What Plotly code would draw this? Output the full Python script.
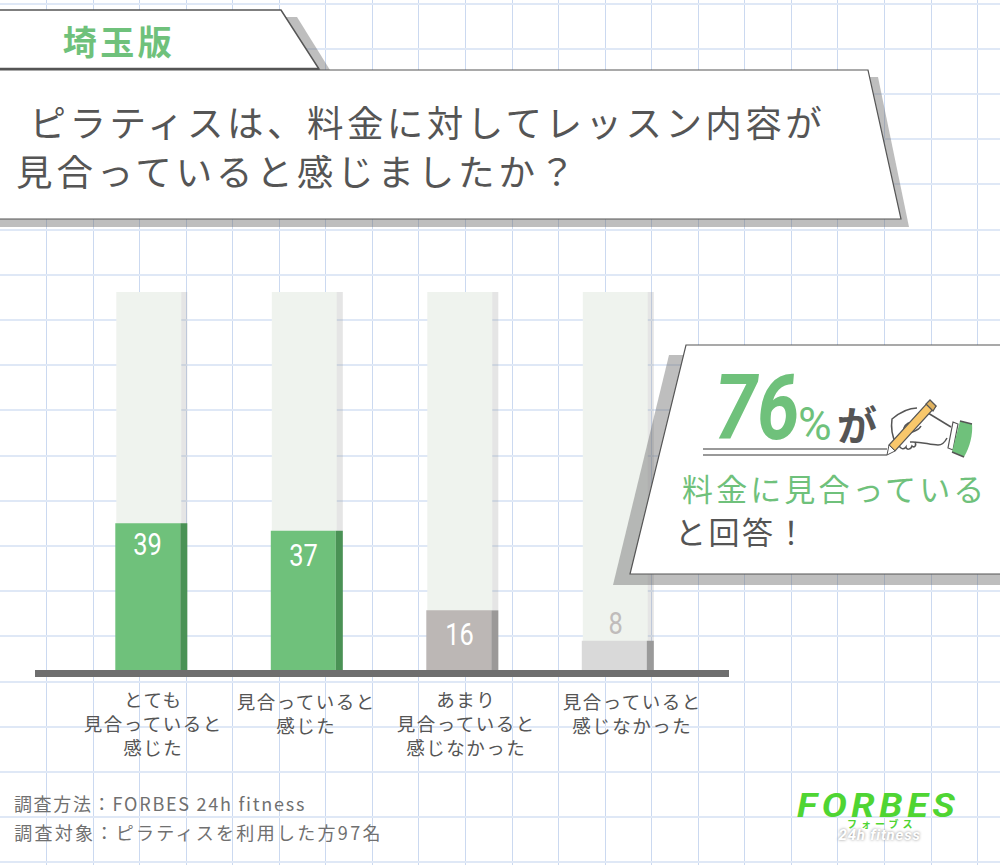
import json
import plotly.graph_objects as go

categories = ['とても見合っていると感じた', '見合っていると感じた', 'あまり見合っていると感じなかった', '見合っていると感じなかった']
tick_labels = ['とても<br>見合っていると<br>感じた', '見合っていると<br>感じた', 'あまり<br>見合っていると<br>感じなかった', '見合っていると<br>感じなかった']
values = [39, 37, 16, 8]
track = [100, 100, 100, 100]

JP = 'Noto Sans CJK JP'
LATIN = 'Roboto'
DARK = '#555555'
GREEN = '#6fc17b'

bar_colors = [GREEN, GREEN, '#bcb7b5', '#d9d9d9']
side_colors = ['#4a9255', '#4a9255', '#9b9998', '#9a9a9a']
value_colors = ['#ffffff', '#ffffff', '#ffffff', '#c0bcbb']
value_xshift = [-4, -3, -3, -2]
value_yshift = [-21, -25, -24, 17]
label_xshift = [2, 0, 4, 15]
label_y = [723, 713, 723, 713]

# one category is 155.5 px wide
UNIT = 155.5
CENTER0 = 151.3
BAR_W = 65 / UNIT
SIDE_W = 7 / UNIT
LEFT = -36 / UNIT

fig = go.Figure()
# the first axes are only the graph paper, in page pixels
fig.add_trace(go.Scatter(x=[0], y=[0], mode='markers', marker=dict(opacity=0), hoverinfo='skip',
                         xaxis='x', yaxis='y', showlegend=False))
fig.add_trace(go.Bar(x=categories, y=track, width=BAR_W, offset=LEFT + 1 / UNIT,
                     marker=dict(color='#eff3ee', line_width=0), xaxis='x2', yaxis='y2'))
fig.add_trace(go.Bar(x=categories, y=track, width=6 / UNIT, offset=LEFT + 1 / UNIT + BAR_W,
                     marker=dict(color='rgba(150,150,150,0.25)', line_width=0), xaxis='x2', yaxis='y2'))
fig.add_trace(go.Bar(x=categories, y=values, width=BAR_W, offset=LEFT,
                     marker=dict(color=bar_colors, line_width=0), xaxis='x2', yaxis='y2'))
fig.add_trace(go.Bar(x=categories, y=values, width=SIDE_W, offset=LEFT + BAR_W,
                     marker=dict(color=side_colors, line_width=0), xaxis='x2', yaxis='y2'))

shapes = []


def poly(points, fill, line=None, width=0):
    path = 'M' + ' L'.join(f'{x},{y}' for x, y in points) + ' Z'
    shapes.append(dict(type='path', path=path, xref='x', yref='y', fillcolor=fill, layer='above',
                       line=dict(color=line or 'rgba(0,0,0,0)', width=width)))


def stroke(path, color=DARK, width=1.5):
    shapes.append(dict(type='path', path=path, xref='x', yref='y', layer='above',
                       line=dict(color=color, width=width)))


SHADOW = 'rgba(110,110,110,0.45)'
# baseline
poly([(35, 670), (729, 670), (729, 677), (35, 677)], '#6e6e6e')
# header tab and question panel
poly([(-5, 17), (297, 17), (330, 70), (-5, 70)], SHADOW)
poly([(-5, 10), (281, 10), (319, 69), (-5, 69)], '#ffffff', DARK, 1.5)
stroke('M-5,69 L319,69', DARK, 2.5)
poly([(-5, 77), (878, 77), (909, 227), (-5, 227)], SHADOW)
poly([(-5, 70), (868, 70), (901, 219), (-5, 219)], '#ffffff', DARK, 1.2)
# callout
poly([(669, 355), (1005, 355), (1005, 585), (613, 585)], SHADOW)
poly([(686, 345), (1005, 345), (1005, 574), (630, 574)], '#ffffff', DARK, 1.2)
stroke('M703,449 L887,449', '#777777', 1.5)
stroke('M703,455 L887,455', '#777777', 1.5)
# hand with pen
stroke('M928,413 L951,427')
stroke('M917,408 C908,408 898,414 892,419 C891,426 892,436 896,444')
stroke('M903,433 C903,426 906,423 912,422 M902,434 C908,433 918,432 921,426')
stroke('M910,442 C920,441 930,445 938,445 C942,445 945,442 947,438')
stroke('M899,445 C900,449 904,450 906,447 C906,450 911,450 912,446 C914,448 917,446 915,442')
poly([(889, 445), (895, 451), (936, 406), (930, 400)], '#f8c76b', DARK, 1.2)
poly([(926, 404), (933, 411), (936, 406), (930, 400)], '#e0b25f', DARK, 1.2)
poly([(889, 445), (895, 451), (887, 455)], '#ffffff', DARK, 1)
poly([(953, 422), (958, 424), (953, 450), (948, 448)], '#ffffff', DARK, 1.2)
shapes.append(dict(type='path', path='M960,421 L972,424 C973,434 970,447 964,457 L952,452 Z',
                   xref='x', yref='y', layer='above', fillcolor=GREEN, line=dict(color='rgba(0,0,0,0)', width=0)))
stroke('M960,421 L972,424 M964,457 L952,452', DARK, 1.5)

annotations = []
spacing = []
squeeze = []


def text(s, x, y, size, color=DARK, gap=0.0, family=JP, xref='x', yref='y', fit=1.0, **kw):
    font = dict(family=family, size=size, color=color)
    font.update(kw.pop('font', {}))
    annotations.append(dict(text=s, x=x, y=y, xref=xref, yref=yref, xanchor='center', yanchor='middle',
                            showarrow=False, font=font, align='center', **kw))
    spacing.append(gap)
    squeeze.append(fit)


text('埼玉版', 119, 40, 34, GREEN, 3.5, font=dict(weight='bold'))
text('ピラティスは、料金に対してレッスン内容が', 427, 121, 36.5, DARK, 3.45)
text('見合っていると感じましたか？', 297, 170, 36.5, DARK, 3.85)

for cat, v, c, dx, dy in zip(categories, values, value_colors, value_xshift, value_yshift):
    text(str(v), cat, v, 31, c, family=LATIN, xref='x2', yref='y2', xshift=dx, yshift=dy, fit=0.82)
for cat, lab, dx, ly in zip(categories, tick_labels, label_xshift, label_y):
    text(lab, cat, ly, 18.5, DARK, 1.5, xref='x2', xshift=dx)

text('76', 757, 408, 90, GREEN, family=LATIN, fit=0.85, font=dict(weight='bold', style='italic'))
text('%', 815, 424, 46, GREEN, family=LATIN)
text('が', 857, 423, 40, DARK, font=dict(weight='bold'))
text('料金に見合っている', 834, 487, 31, GREEN, 3.1)
text('と回答！', 742, 530, 31, DARK, 2.5)

text('調査方法：FORBES 24h fitness', 160, 803, 18, '#707070', 1.75)
text('調査対象：ピラティスを利用した方97名', 198, 832, 18, '#707070', 2.3)

text('FORBES', 878, 805, 33, '#4fd533', 4, family=LATIN, fit=1.14, font=dict(weight='bold', style='italic'))
text('フォーブス', 881, 823, 10, '#4fd533', 4, font=dict(weight='bold'))
text('24h fitness', 880, 835, 15, '#ffffff', 0.8, family=LATIN,
     font=dict(weight='bold', style='italic', shadow='0 0 3px #888888'))

fig.update_layout(
    width=1000,
    height=865,
    margin=dict(l=0, r=0, t=0, b=0),
    paper_bgcolor='white',
    plot_bgcolor='rgba(0,0,0,0)',
    barmode='overlay',
    showlegend=False,
    shapes=shapes,
    annotations=annotations,
    xaxis=dict(domain=[0, 1], range=[0, 1000], tick0=0, dtick=46.55, showgrid=True, gridcolor='#cbd9f0',
               gridwidth=1, zeroline=False, showticklabels=False, ticks='', fixedrange=True),
    yaxis=dict(domain=[0, 1], range=[865, 0], tick0=3.5, dtick=45.2, showgrid=True, gridcolor='#dfe8f6',
               gridwidth=1.5, zeroline=False, showticklabels=False, ticks='', fixedrange=True),
    xaxis2=dict(domain=[(CENTER0 - UNIT / 2) / 1000, (CENTER0 + 3.5 * UNIT) / 1000], anchor='y2',
                type='category', categoryorder='array', categoryarray=categories, range=[-0.5, 3.5],
                showgrid=False, zeroline=False, showticklabels=False, ticks='', fixedrange=True),
    yaxis2=dict(domain=[1 - 671 / 865, 1 - 292 / 865], anchor='x2', range=[0, 100],
                showgrid=False, zeroline=False, showticklabels=False, ticks='', fixedrange=True),
)

# plotly has no letter spacing or condensed text, and the page keeps its default margin
post = """
document.body.style.margin = '0';
document.documentElement.style.overflow = 'hidden';
var gaps = %s, fits = %s;
document.querySelectorAll('.annotation').forEach(function (g) {
  var i = +g.getAttribute('data-index');
  var t = g.querySelector('text');
  t.style.letterSpacing = gaps[i] + 'px';
  if (fits[i] !== 1) {
    t.setAttribute('textLength', t.getComputedTextLength() * fits[i]);
    t.setAttribute('lengthAdjust', 'spacingAndGlyphs');
  }
});
""" % (json.dumps(spacing), json.dumps(squeeze))

fig.write_html("out.html", post_script=post, config=dict(displayModeBar=False))
